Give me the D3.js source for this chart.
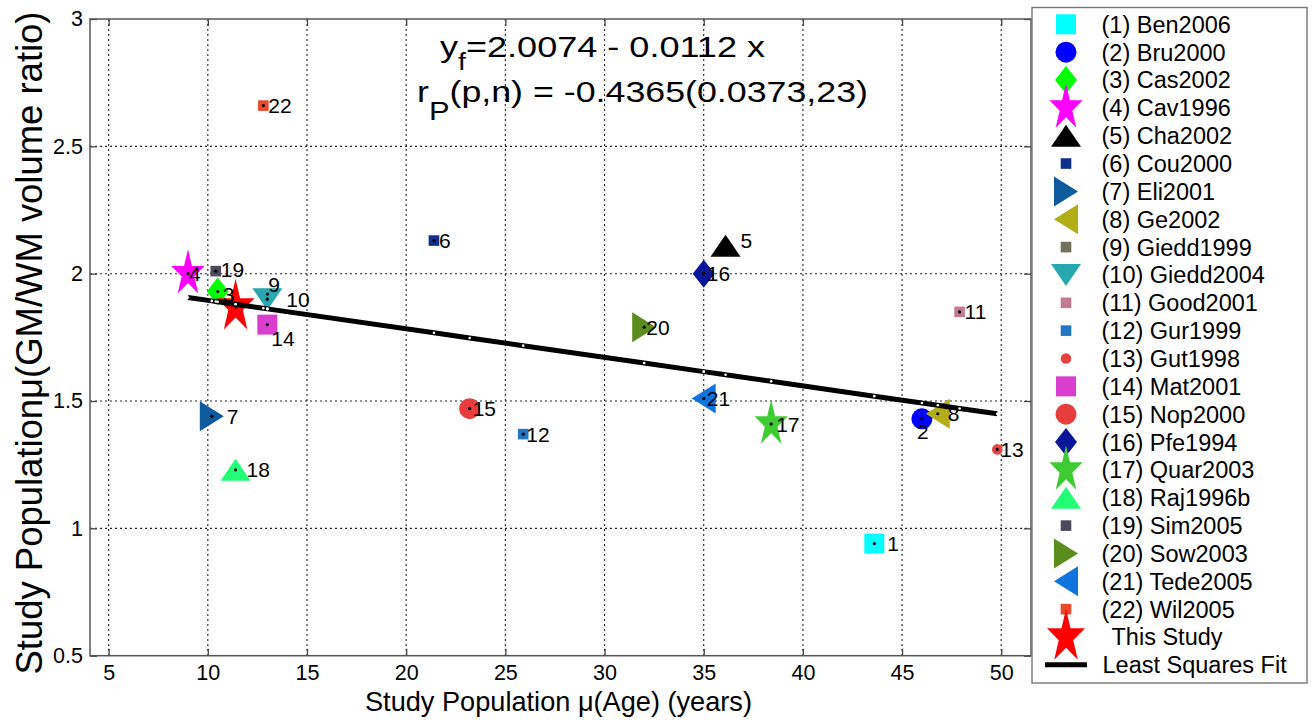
<!DOCTYPE html>
<html>
<head>
<meta charset="utf-8">
<script src="https://cdn.jsdelivr.net/npm/d3@7"></script>
<style>
	body { margin: 0; background: #fff; }
	text { font-family: "Liberation Sans", Arial, sans-serif; fill: #000; }
</style>
</head>
<body>
<div id="chart"></div>
<script>

// --------------------------------------------------------
// Data
var studies     = [ "Ben2006", "Bru2000", "Cas2002", "Cav1996", "Cha2002", "Cou2000",
                    "Eli2001", "Ge2002", "Giedd1999", "Giedd2004", "Good2001", "Gur1999",
                    "Gut1998", "Mat2001", "Nop2000", "Pfe1994", "Quar2003", "Raj1996b",
                    "Sim2005", "Sow2003", "Tede2005", "Wil2005" ];
var mean_age    = [ 43.6, 46.0, 10.5, 9.0, 36.1, 21.4, 10.2, 46.8, 13.0, 13.0, 47.9,
                    25.9, 49.8, 13.0, 23.2, 35.0, 38.4, 11.4, 10.4, 32.0, 35.0, 12.8 ];
var gm_wm_ratio = [ 0.94, 1.43, 1.93, 2.00, 2.11, 2.13, 1.44, 1.45, 1.92, 1.90, 1.85,
                    1.37, 1.31, 1.80, 1.47, 2.00, 1.41, 1.23, 2.01, 1.79, 1.51, 2.66 ];
var this_study  = [ 11.4, 1.87 ];
var fit_coef    = [ 2.0074, -0.0112 ];   // intercept, slope
var x_ticks     = [ 5, 10, 15, 20, 25, 30, 35, 40, 45, 50 ];
var y_ticks     = [ 0.5, 1, 1.5, 2, 2.5, 3 ];

// marker styles (same order as studies)
var marker_shape = [ "sq", "circ", "dia", "star", "triU", "sqS", "triR", "triL", "sqS", "triD", "sqS",
                     "sqS", "circS", "sq", "circ", "dia", "star", "triU", "sqS", "triR", "triL", "sqS" ];
var marker_color = [ "#00ffff", "#0000ff", "#00ff00", "#ff00ff", "#000000", "#0f2f8c", "#0d5a9c",
                     "#b3ad17", "#707058", "#27a7af", "#c27a92", "#2277c4", "#e8423f", "#da3ece",
                     "#e83d3d", "#0a1699", "#3fcc33", "#22ff77", "#4b4a5d", "#5b8c1e", "#0f74de", "#e8492e" ];

// label nudges [dx, dy] in px, default [5, 0]
var label_nudge = { 1: [13, 0], 2: [-5, 13], 3: [5, 3], 4: [1, 0], 5: [15, -5], 7: [15, 0], 8: [10, 0],
                    9: [1, -10], 10: [19, 0], 12: [3, 0], 13: [3, 0], 14: [4, 14], 15: [3, 0],
                    16: [3, 0], 18: [11, 0], 19: [5, -2], 20: [2, 0], 21: [3, 0] };

// --------------------------------------------------------
var chart_width  = 1313;
var chart_height = 724;
var plot         = { left: 90, right: 1031, top: 19, bottom: 655.7 };

var svg = d3.select("#chart")
	.append("svg")
	.attr("width", chart_width)
	.attr("height", chart_height);

var x_scale = d3.scaleLinear().domain([4.06, 51.5]).range([plot.left, plot.right]);
var y_scale = d3.scaleLinear().domain([0.5, 3]).range([plot.bottom, plot.top]);

// --------------------------------------------------------
// marker paths, centered on 0,0
function markerPath(shape, big) {
	var p = d3.path();
	if (shape === "sq" || shape === "sqS") {
		var h = shape === "sq" ? 10 : 5.3;
		return "M" + (-h) + "," + (-h) + "H" + h + "V" + h + "H" + (-h) + "Z";
	}
	if (shape === "circ" || shape === "circS") {
		var r = shape === "circ" ? 10.5 : 5.3;
		p.arc(0, 0, r, 0, 2 * Math.PI);
		return p.toString();
	}
	if (shape === "dia") return "M0,-14L11,0L0,14L-11,0Z";
	if (shape === "triU") return "M0,-11L15,11L-15,11Z";
	if (shape === "triD") return "M0,11L15,-11L-15,-11Z";
	if (shape === "triR") return "M12,0L-12,-15L-12,15Z";
	if (shape === "triL") return "M-12,0L12,-15L12,15Z";
	if (shape === "star") {
		var R = big ? 20 : 17.5, sy = 1.4, pts = [];
		for (var k = 0; k < 10; k++) {
			var rr = k % 2 === 0 ? R : R * 0.382;
			var a  = -Math.PI / 2 + k * Math.PI / 5;
			pts.push([rr * Math.cos(a), rr * Math.sin(a) * sy]);
		}
		return "M" + pts.map(function(d){ return d[0].toFixed(2) + "," + d[1].toFixed(2); }).join("L") + "Z";
	}
}

// --------------------------------------------------------
// grid
svg.append("g").selectAll("line")
	.data(x_ticks).enter().append("line")
	.attr("x1", function(d){ return x_scale(d); })
	.attr("x2", function(d){ return x_scale(d); })
	.attr("y1", plot.top).attr("y2", plot.bottom)
	.attr("stroke", "#222").attr("stroke-width", 1.1).attr("stroke-dasharray", "2,3");

svg.append("g").selectAll("line")
	.data(y_ticks.slice(1, -1)).enter().append("line")
	.attr("y1", function(d){ return y_scale(d); })
	.attr("y2", function(d){ return y_scale(d); })
	.attr("x1", plot.left).attr("x2", plot.right)
	.attr("stroke", "#222").attr("stroke-width", 1.1).attr("stroke-dasharray", "2,3");

// --------------------------------------------------------
// axes
var x_axis = d3.axisBottom(x_scale).tickValues(x_ticks).tickSizeInner(-7).tickSizeOuter(0).tickPadding(9.5);
var y_axis = d3.axisLeft(y_scale).tickValues(y_ticks).tickSizeInner(-7).tickSizeOuter(0).tickPadding(7)
	.tickFormat(function(d){ return d; });

svg.append("g").attr("class", "x-axis")
	.attr("transform", "translate(0," + plot.bottom + ")")
	.call(x_axis);
svg.append("g").attr("class", "y-axis")
	.attr("transform", "translate(" + plot.left + ",0)")
	.call(y_axis);
svg.append("g").attr("transform", "translate(0," + plot.top + ")")
	.call(d3.axisTop(x_scale).tickValues(x_ticks).tickSizeInner(-7).tickSizeOuter(0).tickFormat(""));
svg.append("g").attr("transform", "translate(" + plot.right + ",0)")
	.call(d3.axisRight(y_scale).tickValues(y_ticks).tickSizeInner(-7).tickSizeOuter(0).tickFormat(""));

svg.selectAll(".domain").remove();
svg.selectAll(".tick line").attr("stroke", "#444").attr("stroke-width", 1.3);
svg.selectAll(".tick text").style("font-size", "21.5px").style("font-family", "'Liberation Sans', Arial, sans-serif").attr("fill", "#000");

svg.append("rect")
	.attr("x", plot.left).attr("y", plot.top)
	.attr("width", plot.right - plot.left).attr("height", plot.bottom - plot.top)
	.attr("fill", "none").attr("stroke", "#555").attr("stroke-width", 1.5);

// --------------------------------------------------------
// markers
var points = studies.map(function(s, i){
	return { id: i + 1, x: mean_age[i], y: gm_wm_ratio[i], shape: marker_shape[i], color: marker_color[i] };
});

var plot_area = svg.append("g").attr("id", "plot-area");

plot_area.selectAll("path.marker")
	.data(points).enter().append("path")
	.attr("class", "marker")
	.attr("transform", function(d){ return "translate(" + x_scale(d.x) + "," + y_scale(d.y) + ")"; })
	.attr("d", function(d){ return markerPath(d.shape, false); })
	.attr("fill", function(d){ return d.color; });

plot_area.append("path")
	.attr("transform", "translate(" + x_scale(this_study[0]) + "," + y_scale(this_study[1]) + ")")
	.attr("d", markerPath("star", true))
	.attr("fill", "#ff0000");

// --------------------------------------------------------
// least squares fit, evaluated at every study age
var fit_x = mean_age.concat([this_study[0]]).sort(d3.ascending);
var fit_line = d3.line()
	.x(function(d){ return x_scale(d); })
	.y(function(d){ return y_scale(fit_coef[0] + fit_coef[1] * d); });

plot_area.append("path")
	.datum(fit_x)
	.attr("d", fit_line)
	.attr("fill", "none").attr("stroke", "#000").attr("stroke-width", 5);

plot_area.selectAll("circle.fitdot")
	.data(fit_x).enter().append("circle")
	.attr("class", "fitdot")
	.attr("cx", function(d){ return x_scale(d); })
	.attr("cy", function(d){ return y_scale(fit_coef[0] + fit_coef[1] * d); })
	.attr("r", 1.3).attr("fill", "#fff");

// centre dots
plot_area.selectAll("circle.cdot")
	.data(points.concat([{ x: this_study[0], y: this_study[1] }])).enter().append("circle")
	.attr("class", "cdot")
	.attr("cx", function(d){ return x_scale(d.x); })
	.attr("cy", function(d){ return y_scale(d.y); })
	.attr("r", 1.6).attr("fill", "#000");

// labels
plot_area.selectAll("text.lbl")
	.data(points).enter().append("text")
	.attr("class", "lbl")
	.attr("x", function(d){ return x_scale(d.x) + (label_nudge[d.id] ? label_nudge[d.id][0] : 5); })
	.attr("y", function(d){ return y_scale(d.y) + (label_nudge[d.id] ? label_nudge[d.id][1] : 0); })
	.attr("dy", "0.36em")
	.style("font-size", "21px")
	.text(function(d){ return d.id; });

// --------------------------------------------------------
// fit equation
var eq1 = svg.append("text").attr("x", 440).attr("y", 57).style("font-size", "29px")
	.attr("textLength", 325).attr("lengthAdjust", "spacingAndGlyphs");
eq1.append("tspan").text("y");
eq1.append("tspan").attr("dy", 13).style("font-size", "23px").text("f");
eq1.append("tspan").attr("dy", -13).text("=" + fit_coef[0].toFixed(4) + " - " + Math.abs(fit_coef[1]).toFixed(4) + " x");

var eq2 = svg.append("text").attr("x", 417).attr("y", 102).style("font-size", "29px")
	.attr("textLength", 451).attr("lengthAdjust", "spacingAndGlyphs");
eq2.append("tspan").text("r");
eq2.append("tspan").attr("dy", 18).style("font-size", "25px").text("P");
eq2.append("tspan").attr("dy", -18).text("(p,n) = -0.4365(0.0373,23)");

// axis titles
svg.append("text")
	.attr("x", 558.5).attr("y", 711)
	.attr("text-anchor", "middle")
	.attr("textLength", 387).attr("lengthAdjust", "spacingAndGlyphs")
	.style("font-size", "28px")
	.text("Study Population \u03bc(Age) (years)");

svg.append("text")
	.attr("transform", "translate(42,343) rotate(-90)")
	.attr("text-anchor", "middle")
	.attr("textLength", 663).attr("lengthAdjust", "spacingAndGlyphs")
	.style("font-size", "36px")
	.text("Study Population\u03bc(GM/WM volume ratio)");

// --------------------------------------------------------
// legend
var legend = svg.append("g").attr("id", "legend");
legend.append("rect")
	.attr("x", 1032).attr("y", 7.5).attr("width", 275).attr("height", 675.5)
	.attr("fill", "#fff").attr("stroke", "#777").attr("stroke-width", 1.4);

var row_y = function(i){ return 24.3 + i * 27.85; };

legend.selectAll("path.lmark")
	.data(points).enter().append("path")
	.attr("class", "lmark")
	.attr("transform", function(d, i){ return "translate(1066," + row_y(i) + ")"; })
	.attr("d", function(d){ return markerPath(d.shape, false); })
	.attr("fill", function(d){ return d.color; });

legend.append("path")
	.attr("transform", "translate(1066," + row_y(22) + ")")
	.attr("d", markerPath("star", true))
	.attr("fill", "#ff0000");

legend.append("line")
	.attr("x1", 1045).attr("x2", 1087)
	.attr("y1", row_y(23)).attr("y2", row_y(23))
	.attr("stroke", "#000").attr("stroke-width", 5);

legend.selectAll("text.ltext")
	.data(studies).enter().append("text")
	.attr("class", "ltext")
	.attr("x", 1101.5)
	.attr("y", function(d, i){ return row_y(i); })
	.attr("dy", "0.36em")
	.style("font-size", "23.5px")
	.text(function(d, i){ return "(" + (i + 1) + ") " + d; });

legend.append("text").attr("x", 1111.5).attr("y", row_y(22)).attr("dy", "0.36em")
	.style("font-size", "23.5px").text("This Study");
legend.append("text").attr("x", 1102.5).attr("y", row_y(23)).attr("dy", "0.36em")
	.style("font-size", "23.5px").text("Least Squares Fit");

</script>
</body>
</html>
